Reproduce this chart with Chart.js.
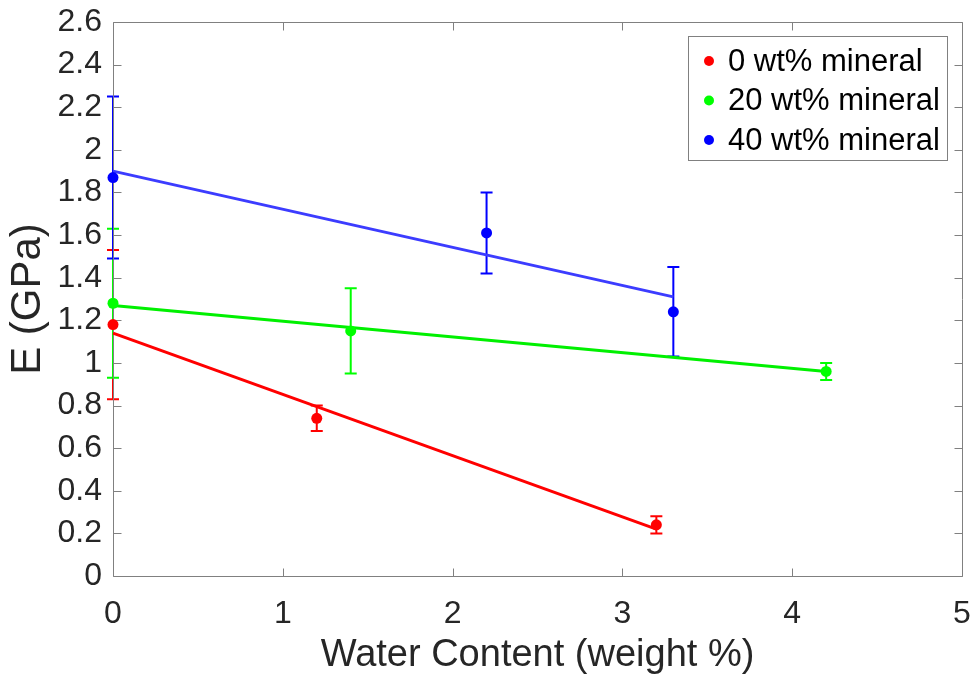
<!DOCTYPE html>
<html>
<head>
<meta charset="utf-8">
<title>Modulus vs water content</title>
<script src="https://cdn.jsdelivr.net/npm/chart.js@4/dist/chart.umd.min.js"></script>
<style>
  html, body { margin: 0; padding: 0; background: #fff; }
  #chart { display: block; }
</style>
</head>
<body>
<canvas id="chart" width="974" height="677"></canvas>
<script>
// -----------------------------
// Data
// -----------------------------
const seriesLabels = ['0 wt% mineral', '20 wt% mineral', '40 wt% mineral'];
const seriesColors = ['#ff0000', '#00ff00', '#0000ff'];
const fitColors = ['#ff0000', '#00f000', '#3c3cff'];

const water0 = [0, 1.2, 3.2];
const modulus0 = [1.18, 0.74, 0.24];
const err0 = [0.35, 0.06, 0.04];

const water20 = [0, 1.4, 4.2];
const modulus20 = [1.28, 1.15, 0.96];
const err20 = [0.35, 0.2, 0.04];

const water40 = [0, 2.2, 3.3];
const modulus40 = [1.87, 1.61, 1.24];
const err40 = [0.38, 0.19, 0.21];

// linear fit end points
const fitX0 = [0, 3.2];
const fitY0 = [1.14, 0.22];
const fitX20 = [0, 4.2];
const fitY20 = [1.27, 0.96];
const fitX40 = [0, 3.3];
const fitY40 = [1.90, 1.31];

const xTicks = [0, 1, 2, 3, 4, 5];
const yTicks = [0, 0.2, 0.4, 0.6, 0.8, 1, 1.2, 1.4, 1.6, 1.8, 2, 2.2, 2.4, 2.6];

const AXIS_GRAY = '#808080';
const TEXT_GRAY = '#262626';
const FONT = 'Arial, "Liberation Sans", sans-serif';

function pts(xs, ys) {
  return xs.map((x, i) => ({x: x, y: ys[i]}));
}

// keep the plot box exactly where the layout padding puts it
function noScalePadding(s) {
  s.paddingTop = 0;
  s.paddingBottom = 0;
  s.paddingLeft = 0;
  s.paddingRight = 0;
}

const measured = [
  {xs: water0, ys: modulus0, err: err0},
  {xs: water20, ys: modulus20, err: err20},
  {xs: water40, ys: modulus40, err: err40}
];
const fits = [
  {xs: fitX0, ys: fitY0},
  {xs: fitX20, ys: fitY20},
  {xs: fitX40, ys: fitY40}
];

const datasets = [];
measured.forEach((m, i) => {
  datasets.push({
    type: 'scatter',
    label: seriesLabels[i],
    data: pts(m.xs, m.ys),
    errors: m.err,
    backgroundColor: seriesColors[i],
    borderWidth: 0,
    pointRadius: 5.5,
    pointHoverRadius: 5.5,
    clip: false,
    order: 3 - i
  });
});
fits.forEach((f, i) => {
  datasets.push({
    type: 'line',
    label: 'fit ' + seriesLabels[i],
    data: pts(f.xs, f.ys),
    borderColor: fitColors[i],
    borderWidth: 3,
    pointRadius: 0,
    fill: false,
    clip: false,
    order: 10 - i
  });
});

// -----------------------------
// Error bars (drawn under the markers)
// -----------------------------
const errorBars = {
  id: 'errorBars',
  beforeDatasetsDraw(chart) {
    const ctx = chart.ctx;
    const xs = chart.scales.x, ys = chart.scales.y;
    ctx.save();
    ctx.lineWidth = 2;
    chart.data.datasets.forEach((ds, i) => {
      if (!ds.errors) return;
      ctx.strokeStyle = seriesColors[i];
      ds.data.forEach((p, j) => {
        const px = xs.getPixelForValue(p.x);
        const top = ys.getPixelForValue(p.y + ds.errors[j]);
        const bot = ys.getPixelForValue(p.y - ds.errors[j]);
        ctx.beginPath();
        ctx.moveTo(px, top); ctx.lineTo(px, bot);
        ctx.moveTo(px - 6, top); ctx.lineTo(px + 6, top);
        ctx.moveTo(px - 6, bot); ctx.lineTo(px + 6, bot);
        ctx.stroke();
      });
    });
    ctx.restore();
  }
};

// -----------------------------
// Axes box with inward ticks on all four sides
// -----------------------------
const boxAxes = {
  id: 'boxAxes',
  beforeDatasetsDraw(chart) {
    const ctx = chart.ctx;
    const a = chart.chartArea;
    const xs = chart.scales.x, ys = chart.scales.y;
    const L = Math.round(a.left) + 0.5, R = Math.round(a.right) + 0.5;
    const T = Math.round(a.top) + 0.5, B = Math.round(a.bottom) + 0.5;
    const tl = 8;
    ctx.save();
    ctx.strokeStyle = AXIS_GRAY;
    ctx.lineWidth = 1;
    ctx.beginPath();
    ctx.rect(L, T, R - L, B - T);
    xTicks.forEach(v => {
      const px = Math.round(xs.getPixelForValue(v)) + 0.5;
      ctx.moveTo(px, B); ctx.lineTo(px, B - tl);
      ctx.moveTo(px, T); ctx.lineTo(px, T + tl);
    });
    yTicks.forEach(v => {
      const py = Math.round(ys.getPixelForValue(v)) + 0.5;
      ctx.moveTo(L, py); ctx.lineTo(L + tl, py);
      ctx.moveTo(R, py); ctx.lineTo(R - tl, py);
    });
    ctx.stroke();
    ctx.restore();
  }
};

// -----------------------------
// Boxed legend in the upper right corner
// -----------------------------
const boxLegend = {
  id: 'boxLegend',
  afterDraw(chart) {
    const ctx = chart.ctx;
    const a = chart.chartArea;
    const w = 259, h = 124;
    const x0 = a.right - 15 - w, y0 = a.top + 14;
    ctx.save();
    ctx.fillStyle = '#fff';
    ctx.fillRect(x0, y0, w, h);
    ctx.strokeStyle = AXIS_GRAY;
    ctx.lineWidth = 1;
    ctx.strokeRect(Math.round(x0) + 0.5, Math.round(y0) + 0.5, w, h);
    ctx.font = '31px ' + FONT;
    ctx.textBaseline = 'middle';
    ctx.textAlign = 'left';
    seriesLabels.forEach((label, i) => {
      const cy = y0 + 25 + i * 39.5;
      ctx.fillStyle = seriesColors[i];
      ctx.beginPath();
      ctx.arc(x0 + 21, cy, 5, 0, Math.PI * 2);
      ctx.fill();
      ctx.fillStyle = '#000';
      ctx.fillText(label, x0 + 40, cy + 1);
    });
    ctx.restore();
  }
};

// -----------------------------
// Chart
// -----------------------------
new Chart(document.getElementById('chart'), {
  data: {datasets: datasets},
  plugins: [errorBars, boxAxes, boxLegend],
  options: {
    responsive: false,
    animation: false,
    devicePixelRatio: 1,
    layout: {padding: {top: 22, right: 12, left: 0, bottom: 0}},
    plugins: {legend: {display: false}, tooltip: {enabled: false}},
    scales: {
      x: {
        type: 'linear',
        min: 0, max: 5,
        afterBuildTicks: s => { s.ticks = xTicks.map(v => ({value: v})); },
        afterFit: s => { s.height = 101; noScalePadding(s); },
        grid: {display: false, drawTicks: false},
        border: {display: false},
        ticks: {
          color: TEXT_GRAY,
          font: {family: FONT, size: 32},
          padding: 19,
          maxRotation: 0,
          callback: v => String(v)
        },
        title: {
          display: true,
          text: 'Water Content (weight %)',
          color: TEXT_GRAY,
          font: {family: FONT, size: 38, lineHeight: 1},
          padding: {top: 0, bottom: 2}
        }
      },
      y: {
        type: 'linear',
        min: 0, max: 2.6,
        afterBuildTicks: s => { s.ticks = yTicks.map(v => ({value: v})); },
        afterFit: s => { s.width = 113; noScalePadding(s); },
        grid: {display: false, drawTicks: false},
        border: {display: false},
        ticks: {
          color: TEXT_GRAY,
          font: {family: FONT, size: 32},
          padding: 11,
          callback: v => String(+v.toFixed(1))
        },
        title: {
          display: true,
          text: 'E (GPa)',
          color: TEXT_GRAY,
          font: {family: FONT, size: 42, lineHeight: 1},
          padding: {top: 7, bottom: 0}
        }
      }
    }
  }
});
</script>
</body>
</html>
